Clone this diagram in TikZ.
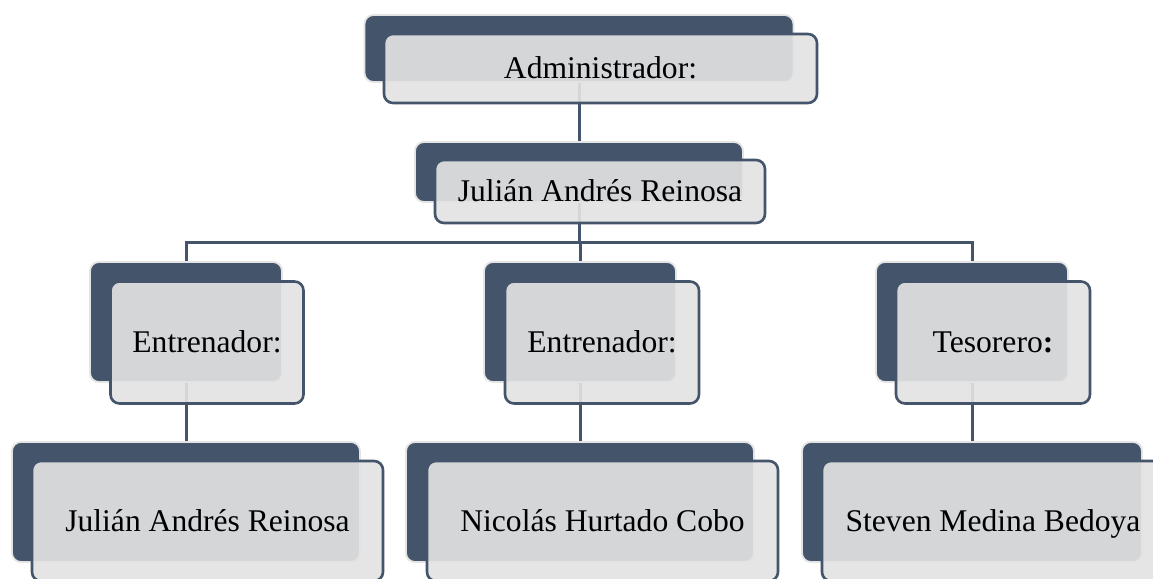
\documentclass[tikz,border=0pt]{standalone}
\usepackage{fontspec}
\setmainfont{Liberation Serif}
\definecolor{slate}{HTML}{44546A}
\definecolor{paleedge}{HTML}{E4E4E4}
\definecolor{lightbox}{HTML}{E3E3E3}
\pgfdeclarelayer{background}
\pgfdeclarelayer{canvas}
\pgfsetlayers{canvas,background,main}
\tikzset{
  darkbox/.style={rectangle, rounded corners=9pt, fill=slate, draw=paleedge, line width=1.8pt, inner sep=0pt},
  lightbox/.style={rectangle, rounded corners=9pt, fill=lightbox, fill opacity=0.91, text opacity=1, draw=slate, line width=2.6pt, inner sep=0pt, text height=24pt, text depth=4pt, font=\fontsize{31.6}{36}\selectfont},
  link/.style={draw=slate, line width=3pt}
}
\begin{document}
\begin{tikzpicture}[x=1pt,y=-1pt]
\clip (0,0) rectangle (1153,578);
\useasboundingbox (0,0) rectangle (1153,578);
\begin{pgfonlayer}{canvas}
\fill[white] (0,0) rectangle (1153,578);
\end{pgfonlayer}
% top level
\node[darkbox, minimum width=429pt, minimum height=67pt] (d1) at (579,48.5) {};
\node[lightbox, minimum width=433pt, minimum height=69pt] (l1) at (600.5,68.5) {Administrador:};
\node[darkbox, minimum width=328pt, minimum height=60pt] (d2) at (579,172) {};
\node[lightbox, minimum width=330pt, minimum height=63pt] (l2) at (600,191.5) {Julián Andrés Reinosa};
% row 3
\node[darkbox, minimum width=192pt, minimum height=120pt] (d3a) at (186,322) {};
\node[lightbox, minimum width=193pt, minimum height=122pt] (l3a) at (207,342.5) {Entrenador:};
\node[darkbox, minimum width=192pt, minimum height=120pt] (d3b) at (580,322) {};
\node[lightbox, minimum width=194pt, minimum height=122pt] (l3b) at (602,342.5) {Entrenador:};
\node[darkbox, minimum width=192pt, minimum height=120pt] (d3c) at (972,322) {};
\node[lightbox, minimum width=194pt, minimum height=122pt] (l3c) at (993,342.5) {Tesorero\textbf{:}};
% row 4
\node[darkbox, minimum width=348pt, minimum height=120pt] (d4a) at (186,502) {};
\node[lightbox, minimum width=351pt, minimum height=120pt] (l4a) at (207.5,521) {Julián Andrés Reinosa};
\node[darkbox, minimum width=348pt, minimum height=120pt] (d4b) at (580,502) {};
\node[lightbox, minimum width=351pt, minimum height=120pt] (l4b) at (602.5,521) {Nicolás Hurtado Cobo};
\node[darkbox, minimum width=340pt, minimum height=120pt] (d4c) at (972,502) {};
\node[lightbox, minimum width=342pt, minimum height=120pt] (l4c) at (993,521) {Steven Medina Bedoya};
\coordinate (hub) at (579,242);
\begin{pgfonlayer}{background}
\draw[link] (d1.center) -- (d2.center);
\draw[link] (d2.center) -- (hub);
\draw[link] (d3a.center) |- (hub) -| (d3c.center);
\draw[link] (hub) -| (d3b.center);
\draw[link] (d3a.center) -- (d4a.center);
\draw[link] (d3b.center) -- (d4b.center);
\draw[link] (d3c.center) -- (d4c.center);
\end{pgfonlayer}
\end{tikzpicture}
\end{document}
